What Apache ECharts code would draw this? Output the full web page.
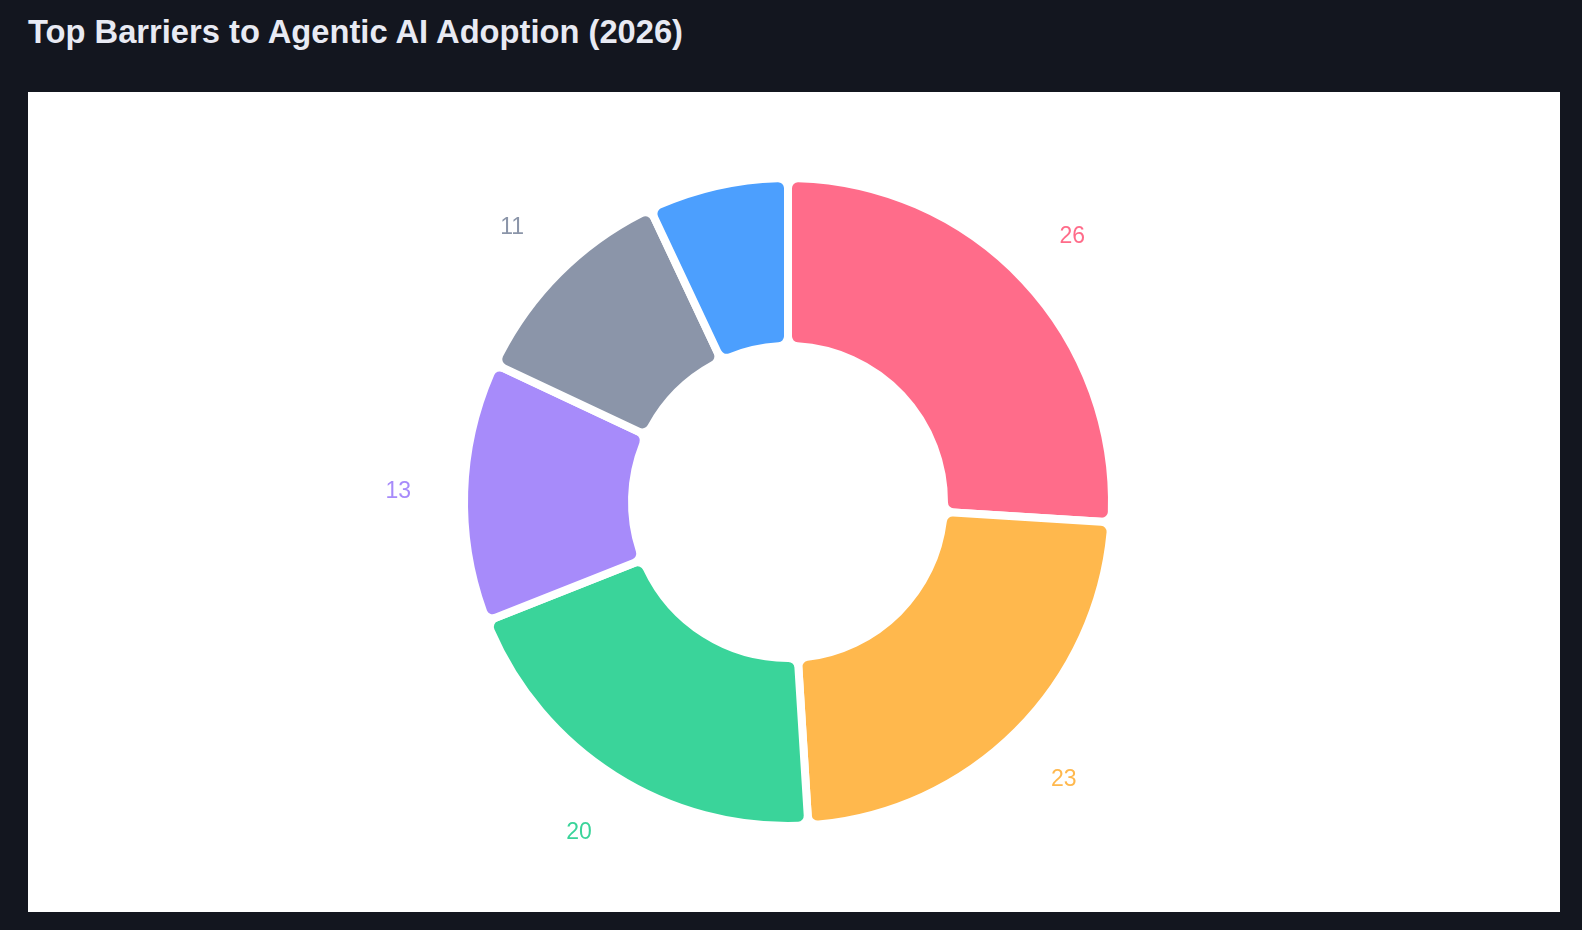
<!DOCTYPE html>
<html>
<head>
<meta charset="utf-8">
<script src="https://cdn.jsdelivr.net/npm/echarts@6/dist/echarts.min.js"></script>
<style>
  html, body { margin: 0; padding: 0; background: #13161f; width: 1582px; height: 930px; overflow: hidden; }
  h1 {
    position: absolute; left: 28px; top: 12px; margin: 0;
    font: bold 32.7px 'Liberation Sans', Arial, sans-serif; color: #e8eaf3; line-height: 40px;
  }
  #main { position: absolute; left: 28px; top: 92px; width: 1532px; height: 820px; background: #fff; }
</style>
</head>
<body>
<h1>Top Barriers to Agentic AI Adoption (2026)</h1>
<div id="main"></div>
<script>
// barrier share, clockwise from 12 o'clock
const names = ['Barrier A', 'Barrier B', 'Barrier C', 'Barrier D', 'Barrier E', 'Barrier F']
const values = [26, 23, 20, 13, 11, 7]
const colors = ['#ff6c8a', '#ffb84d', '#3ad49a', '#a78bfa', '#8b95a9', '#4c9ffe']
const showLabel = [true, true, true, true, true, false]

const chart = echarts.init(document.getElementById('main'))

const ringData = values.map((v, i) => ({
  name: names[i],
  value: v,
  itemStyle: { color: colors[i] }
}))
const labelData = values.map((v, i) => ({
  name: names[i],
  value: v,
  label: { show: showLabel[i], color: colors[i] }
}))

const option = {
  animation: false,
  series: [
    {
      type: 'pie',
      center: [760, 410],
      radius: [156, 324],
      startAngle: 90,
      clockwise: true,
      silent: true,
      itemStyle: { borderColor: '#fff', borderWidth: 8, borderRadius: 10 },
      label: { show: false },
      labelLine: { show: false },
      data: ringData
    },
    {
      // transparent ring that carries the value labels
      type: 'pie',
      center: [760, 411.5],
      radius: [377, 397],
      startAngle: 90,
      clockwise: true,
      silent: true,
      itemStyle: { color: 'transparent' },
      label: {
        position: 'inside',
        formatter: '{c}',
        fontSize: 23,
        fontFamily: 'Liberation Sans, Arial, sans-serif'
      },
      labelLine: { show: false },
      data: labelData
    }
  ]
}
chart.setOption(option)
</script>
</body>
</html>
